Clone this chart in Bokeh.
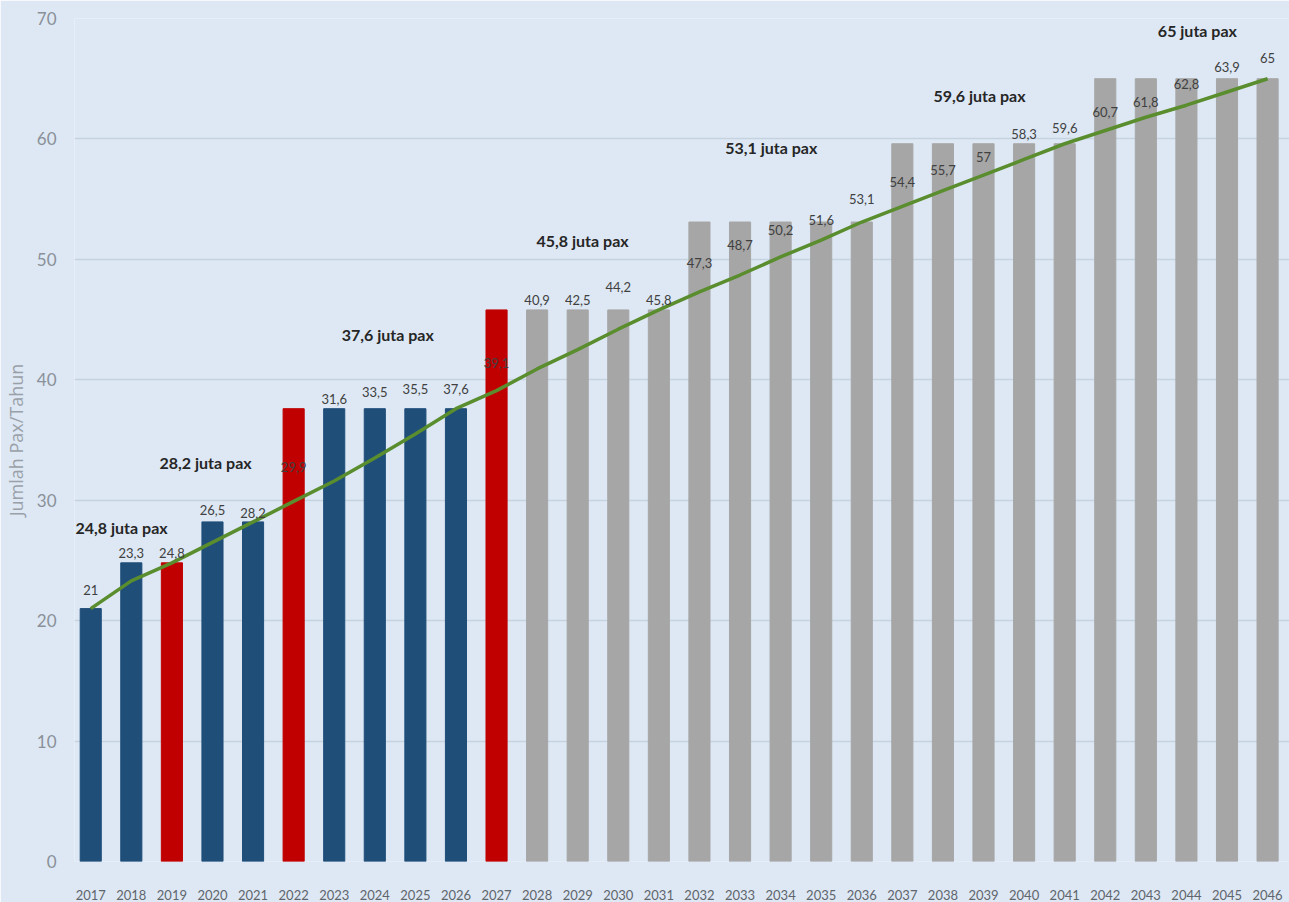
from bokeh.plotting import figure
from bokeh.models import ColumnDataSource, Range1d, FixedTicker, Label
from bokeh.core.properties import value
from bokeh.embed import file_html
from bokeh.resources import INLINE

years = list(range(2017, 2047))
capacity = [21, 24.8, 24.8, 28.2, 28.2, 37.6, 37.6, 37.6, 37.6, 37.6,
            45.8, 45.8, 45.8, 45.8, 45.8, 53.1, 53.1, 53.1, 53.1, 53.1,
            59.6, 59.6, 59.6, 59.6, 59.6, 65, 65, 65, 65, 65]
demand = [21, 23.3, 24.8, 26.5, 28.2, 29.9, 31.6, 33.5, 35.5, 37.6,
          39.1, 40.9, 42.5, 44.2, 45.8, 47.3, 48.7, 50.2, 51.6, 53.1,
          54.4, 55.7, 57, 58.3, 59.6, 60.7, 61.8, 62.8, 63.9, 65]
bar_group = ["existing", "existing", "expansion", "existing", "existing", "expansion",
             "existing", "existing", "existing", "existing", "expansion"] + ["plan"] * 19
stage_labels = ["24,8 juta pax", "28,2 juta pax", "37,6 juta pax", "45,8 juta pax",
                "53,1 juta pax", "59,6 juta pax", "65 juta pax"]
stage_year = [2017.76, 2019.83, 2024.32, 2029.12, 2033.77, 2038.9, 2044.27]
stage_y = [27.7, 33.1, 43.8, 51.6, 59.3, 63.6, 69.0]

# layout: vertical offset of each value label above its line point (data units)
label_dy = [1.55, 2.3, 0.8, 2.7, 0.7, 2.85, 6.8, 5.5, 3.7, 1.6,
            2.3, 5.7, 4.1, 3.5, 0.8, 2.4, 2.5, 2.2, 1.7, 1.9,
            2.0, 1.7, 1.5, 2.1, 1.3, 1.5, 1.3, 1.8, 2.1, 1.75]

color_map = {"existing": "#1f4e79", "expansion": "#c00000", "plan": "#a6a6a6"}
BG = "#dde8f4"
FONT = "Lato"

src = ColumnDataSource(dict(
    year=years, cap=capacity, dem=demand,
    color=[color_map[g] for g in bar_group],
    lab=[("%g" % v).replace(".", ",") for v in demand],
    laby=[d + o for d, o in zip(demand, label_dy)],
))

p = figure(width=1289, height=902, output_backend="svg", toolbar_location=None,
           x_range=Range1d(2016.6, 2046.54), y_range=Range1d(0, 70),
           min_border_left=70, min_border_right=0, min_border_top=18, min_border_bottom=40)
p.background_fill_color = BG
p.border_fill_color = BG
p.outline_line_color = None

p.vbar(x="year", top="cap", width=0.52, color="color", source=src)
p.line(x="year", y="dem", line_color="#5a8d2e", line_width=3.5, source=src)
p.text(x="year", y="laby", text="lab", source=src, text_align="center",
       text_baseline="middle", text_font=value(FONT), text_font_size="13px",
       text_color="#404040")

for t, xx, yy in zip(stage_labels, stage_year, stage_y):
    p.add_layout(Label(x=xx, y=yy, text=t, text_align="center", text_baseline="middle",
                       text_font=FONT, text_font_size="16px", text_font_style="bold",
                       text_color="#262626"))

p.xaxis.ticker = FixedTicker(ticks=years)
p.xaxis.major_label_text_font = FONT
p.xaxis.major_label_text_font_size = "13px"
p.xaxis.major_label_text_color = "#5f656c"
p.xaxis.major_label_standoff = 22
p.yaxis.ticker = FixedTicker(ticks=list(range(0, 71, 10)))
p.yaxis.major_label_text_font = FONT
p.yaxis.major_label_text_font_size = "17px"
p.yaxis.major_label_text_color = "#8a9099"
p.yaxis.major_label_standoff = 12
p.yaxis.axis_label = "Jumlah Pax/Tahun"
p.yaxis.axis_label_text_font = "Open Sans"
p.yaxis.axis_label_text_font_style = "normal"
p.yaxis.axis_label_text_font_size = "18px"
p.yaxis.axis_label_text_color = "#9aa0a8"
p.yaxis.axis_label_standoff = 6
for ax in (p.xaxis, p.yaxis):
    ax.axis_line_color = None
    ax.major_tick_line_color = None
    ax.minor_tick_line_color = None
p.xgrid.grid_line_color = None
p.ygrid.grid_line_color = "#c6d2df"
p.ygrid.grid_line_width = 1.5

open("out.html", "w").write(file_html(p, INLINE))
